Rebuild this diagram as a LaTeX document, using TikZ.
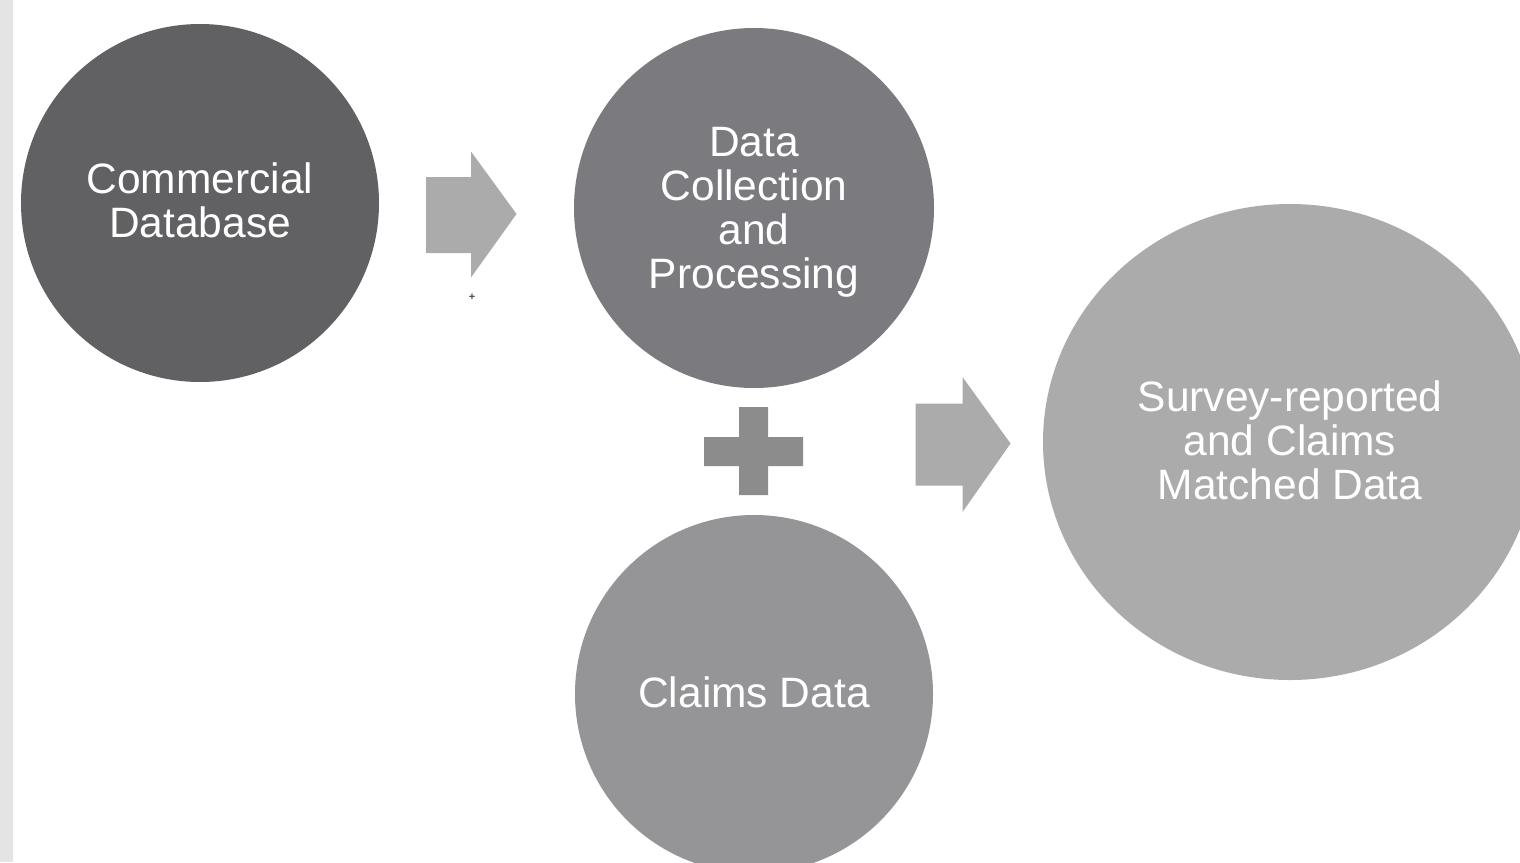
\documentclass[tikz,border=0pt]{standalone}
\usepackage{fontspec}
\setmainfont{Liberation Sans}
\usetikzlibrary{shapes.geometric}
\definecolor{cdark}{HTML}{616163}
\definecolor{cmid}{HTML}{7B7B7F}
\definecolor{cclaims}{HTML}{959597}
\definecolor{clight}{HTML}{ABABAB}
\definecolor{carrow}{HTML}{ABABAB}
\definecolor{cplus}{HTML}{8C8C8C}
\definecolor{cstrip}{HTML}{E4E4E4}
\tikzset{
  bubble/.style={circle, inner sep=0pt, minimum size=#1},
  bigbubble/.style={ellipse, inner sep=0pt},
  btext/.style={align=center, text=white, inner sep=0pt,
    font=\fontsize{42.5}{44}\selectfont},
}
\begin{document}
\begin{tikzpicture}[x=1pt,y=-1pt]
\useasboundingbox (0,0) rectangle (1520,862);
\clip (0,0) rectangle (1520,862);
\fill[white] (0,0) rectangle (1520,862);
\fill[cstrip] (0,0) rectangle (12.5,862);
% circles
\node[bubble=358pt, fill=cdark,
  label={[btext, yshift=2.5pt]center:Commercial\\Database}] (comm) at (200,203) {};
\node[bubble=360pt, fill=cmid,
  label={[btext, yshift=-4pt]center:Data\\Collection\\and\\Processing}] (dcp) at (754,208) {};
\node[bubble=358pt, fill=cclaims,
  label={[btext, yshift=2pt]center:Claims Data}] (claims) at (754,694) {};
\node[bigbubble, fill=clight, minimum width=494pt, minimum height=476pt,
  label={[btext, yshift=2pt]center:Survey-reported\\and Claims\\Matched Data}] (surv) at (1290,442) {};
% arrow 1
\fill[carrow] (426,177) -- (471,177) -- (471,151.5) -- (516.5,214) -- (471,277.5) -- (471,253) -- (426,253) -- cycle;
% arrow 2
\fill[carrow] (915.5,403.5) -- (962.5,403.5) -- (962.5,377) -- (1010.5,443.5) -- (962.5,512) -- (962.5,485.5) -- (915.5,485.5) -- cycle;
% plus sign
\fill[cplus] (739,407) -- (768,407) -- (768,437) -- (803,437) -- (803,466) -- (768,466) -- (768,495) -- (739,495) -- (739,466) -- (704,466) -- (704,437) -- (739,437) -- cycle;
% small plus
\node[text=black!70, font=\fontsize{11}{11}\selectfont\bfseries, inner sep=0pt] (smallplus) at (472,297) {+};
\end{tikzpicture}
\end{document}
